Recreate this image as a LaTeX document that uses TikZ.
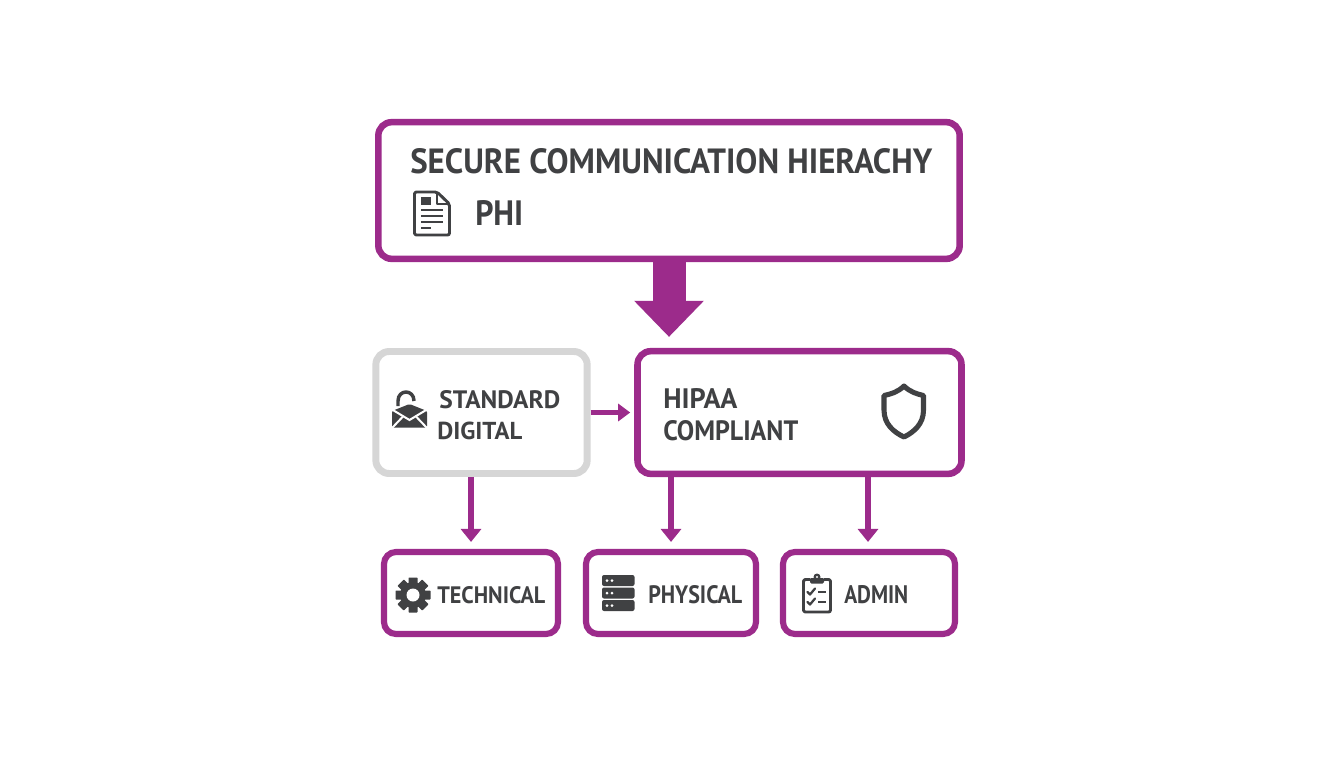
\documentclass[tikz,border=0pt]{standalone}
\usepackage{fontspec}
\usepackage{graphicx}
\setmainfont{PT Sans}
\usetikzlibrary{arrows.meta}
\definecolor{plum}{HTML}{9C2B8B}
\definecolor{ring}{HTML}{D6D6D6}
\definecolor{ink}{HTML}{404143}
\newcommand{\tx}[3]{\resizebox{#1\dimexpr0.75pt\relax}{#2\dimexpr0.75pt\relax}{\bfseries #3}}
\tikzset{
  boxbase/.style={draw=plum,fill=white,rectangle,line width=4.9pt,inner sep=0pt,rounded corners=10pt},
  graybox/.style={boxbase,draw=ring,line width=5.2pt},
  lowbox/.style={boxbase,line width=4.6pt,rounded corners=9pt},
  lbl/.style={anchor=base west,inner sep=0pt,text=ink},
  arr/.style={draw=plum,line width=4.5pt,-{Triangle[length=9.75pt,width=15pt]}},
  sidearr/.style={draw=plum,line width=3.75pt,-{Triangle[length=9pt,width=12.75pt]}},
  bigarr/.style={draw=plum,line width=24.75pt,-{Triangle[length=27pt,width=50.5pt]},shorten >=8.25pt},
  iconline/.style={draw=ink,line width=2pt,line join=round,line cap=round},
  iconfill/.style={fill=ink,draw=none}
}
\begin{document}
\begin{tikzpicture}[x=0.75pt,y=-0.75pt]
\useasboundingbox (0,0) rectangle (1344,768);
\fill[white] (0,0) rectangle (1344,768);
% boxes
\node[boxbase,minimum width=436pt,minimum height=102.5pt] (top) at (669,190.5) {};
\node[graybox,minimum width=158.5pt,minimum height=91.5pt] (std) at (481.5,412.5) {};
\node[boxbase,minimum width=243pt,minimum height=92pt] (hipaa) at (799.5,412.5) {};
\node[lowbox,minimum width=130.5pt,minimum height=61.5pt] (tech) at (471,593) {};
\node[lowbox,minimum width=127.5pt,minimum height=61.5pt] (phys) at (671,593) {};
\node[lowbox,minimum width=129pt,minimum height=61.5pt] (admin) at (869,593) {};
% connectors
\draw[bigarr] (top.south) -- (top.south |- hipaa.north);
\draw[sidearr,shorten >=3pt] (std.east) -- (hipaa.west);
\draw[arr,shorten >=5.25pt] (tech.north |- std.south) -- (tech.north);
\draw[arr,shorten >=5.25pt] (phys.north |- hipaa.south) -- (phys.north);
\draw[arr,shorten >=5.25pt] ([xshift=-0.75pt]admin.north |- hipaa.south) -- ([xshift=-0.75pt]admin.north);
% labels
\node[lbl] (t1) at (410,173) {\tx{522}{25}{SECURE COMMUNICATION HIERACHY}};
\node[lbl] (t2) at (475,225) {\tx{48}{25}{PHI}};
\node[lbl] (t3) at (439,408) {\tx{121}{18}{STANDARD}};
\node[lbl] (t4) at (437,439) {\tx{85}{17.5}{DIGITAL}};
\node[lbl] (t5) at (663,408) {\tx{74}{20}{HIPAA}};
\node[lbl] (t6) at (663,440) {\tx{135}{20}{COMPLIANT}};
\node[lbl] (t7) at (437,603) {\tx{108}{17}{TECHNICAL}};
\node[lbl] (t8) at (648,603) {\tx{94}{18}{PHYSICAL}};
\node[lbl] (t9) at (844,603) {\tx{64}{18}{ADMIN}};
% document icon
\draw[iconline,line width=2.2pt,rounded corners=1.5pt] (414.5,192) -- (437,192) -- (449.5,204) -- (449.5,235) -- (414.5,235) -- cycle;
\draw[iconline,line width=1.6pt] (437,192.5) -- (437,204) -- (449,204);
\fill[ink] (421,197) rectangle (431,205);
\foreach \yy in {210,216,222} \draw[iconline,line width=1.8pt,line cap=butt] (421,\yy) -- (443,\yy);
\draw[iconline,line width=1.8pt,line cap=butt] (421,228) -- (431,228);
% lock envelope icon
\draw[iconline,line width=2.6pt,line cap=butt] (398,406) -- (398,401) .. controls (398,389) and (414,389) .. (414,401);
\fill[ink,rounded corners=1pt] (409.5,404) -- (427,411) -- (427,427.5) -- (392,427.5) -- (392,411) -- cycle;
\draw[white,line width=1.5pt] (392,409.5) -- (409.5,420) -- (427,409.5);
\draw[white,line width=1.5pt] (392.5,427.5) -- (403,416.5);
\draw[white,line width=1.5pt] (426.5,427.5) -- (416,416.5);
% shield icon
\draw[iconline,line width=3.8pt,line cap=butt,miter limit=4] (904,386) .. controls (910,392) and (917,394) .. (923.5,395.5) -- (923.5,410) .. controls (923.5,424) and (914,432) .. (904,437) .. controls (893.5,432) and (884,424) .. (884,410) -- (884,395.5) .. controls (891,394) and (898,392) .. (904,386) -- cycle;
% gear icon
\begin{scope}[shift={(413,595)}]
\fill[ink] (0,0) circle[radius=13];
\foreach \a in {0,45,...,315} \fill[ink,rotate=\a,rounded corners=0.5pt] (-4.5,-17.5) rectangle (4.5,-9);
\fill[white] (0,0) circle[radius=6.5];
\end{scope}
% server icon
\foreach \yy in {575,587.5,600} {
  \fill[ink,rounded corners=1.5pt] (602,\yy) rectangle (634.5,\yy+11);
  \fill[white] (607,\yy+5.5) circle[radius=1.5];
  \fill[white] (612,\yy+5.5) circle[radius=1.5];
}
% clipboard icon
\draw[iconline,line width=2.2pt,rounded corners=1.5pt] (810,579.5) -- (803.5,579.5) -- (803.5,612) -- (830.5,612) -- (830.5,579.5) -- (824,579.5);
\fill[ink,rounded corners=1pt] (810,578) rectangle (824,583.5);
\fill[ink] (817,577) circle[radius=3.5];
\fill[white] (817,577) circle[radius=1.2];
\foreach \yy in {592,602} {
  \draw[iconline,line width=1.7pt] (807.5,\yy) -- (810,\yy+2.5) -- (815,\yy-3.5);
  \draw[iconline,line width=1.7pt,line cap=butt] (818,\yy) -- (826,\yy);
}
\end{tikzpicture}
\end{document}
